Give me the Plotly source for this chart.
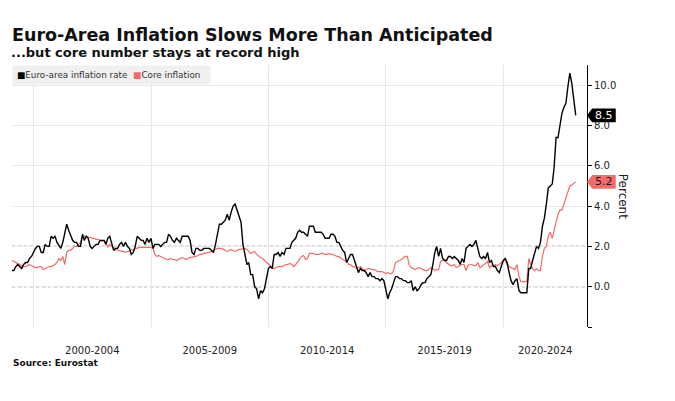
import pandas as pd
import plotly.graph_objects as go

# 月度数据, 1999年1月起
START = '1999-01-01'

HEADLINE = [
    0.8, 0.8, 1.0, 1.1, 1.0, 0.9, 1.1, 1.2, 1.2, 1.4, 1.5, 1.7,        # 1999
    1.9, 2.0, 2.0, 1.7, 1.7, 2.1, 2.0, 2.0, 2.5, 2.4, 2.5, 2.2,        # 2000
    2.0, 1.9, 2.2, 2.6, 3.1, 2.8, 2.5, 2.3, 2.2, 2.2, 2.0, 2.0,        # 2001
    2.6, 2.3, 2.5, 2.4, 2.0, 1.9, 2.0, 2.1, 2.1, 2.3, 2.3, 2.3,        # 2002
    2.1, 2.4, 2.5, 2.1, 1.8, 1.9, 1.9, 2.1, 2.2, 2.0, 2.2, 2.0,        # 2003
    1.9, 1.6, 1.7, 2.0, 2.5, 2.4, 2.3, 2.3, 2.1, 2.4, 2.2, 2.4,        # 2004
    1.9, 2.1, 2.1, 2.1, 2.0, 2.1, 2.2, 2.2, 2.6, 2.5, 2.3, 2.2,        # 2005
    2.4, 2.3, 2.2, 2.5, 2.5, 2.5, 2.5, 2.3, 1.7, 1.6, 1.9, 1.9,        # 2006
    1.8, 1.8, 1.9, 1.9, 1.9, 1.9, 1.8, 1.7, 2.1, 2.6, 3.1, 3.1,        # 2007
    3.2, 3.3, 3.6, 3.3, 3.7, 4.0, 4.1, 3.8, 3.6, 3.2, 2.1, 1.6,        # 2008
    1.1, 1.2, 0.6, 0.6, 0.0, -0.1, -0.6, -0.2, -0.3, -0.1, 0.5, 0.9,   # 2009
    1.0, 0.9, 1.6, 1.6, 1.7, 1.5, 1.7, 1.6, 1.9, 1.9, 1.9, 2.2,        # 2010
    2.3, 2.4, 2.7, 2.8, 2.7, 2.7, 2.6, 2.5, 3.0, 3.0, 3.0, 2.7,        # 2011
    2.7, 2.7, 2.7, 2.6, 2.4, 2.4, 2.4, 2.6, 2.6, 2.5, 2.2, 2.2,        # 2012
    2.0, 1.8, 1.7, 1.2, 1.4, 1.6, 1.6, 1.3, 1.1, 0.7, 0.9, 0.8,        # 2013
    0.8, 0.7, 0.5, 0.7, 0.5, 0.5, 0.4, 0.4, 0.3, 0.4, 0.3, -0.2,       # 2014
    -0.6, -0.3, -0.1, 0.2, 0.5, 0.5, 0.4, 0.4, 0.3, 0.3, 0.2, 0.2,     # 2015
    0.3, -0.2, 0.0, -0.2, -0.1, 0.1, 0.2, 0.2, 0.4, 0.5, 0.6, 1.1,     # 2016
    1.7, 2.0, 1.5, 1.9, 1.4, 1.3, 1.3, 1.5, 1.5, 1.4, 1.5, 1.4,        # 2017
    1.3, 1.1, 1.4, 1.2, 1.9, 2.0, 2.1, 2.0, 2.1, 2.3, 1.9, 1.5,        # 2018
    1.4, 1.5, 1.4, 1.7, 1.2, 1.3, 1.0, 1.0, 0.8, 0.7, 1.0, 1.3,        # 2019
    1.4, 1.2, 0.7, 0.3, 0.1, 0.3, 0.4, -0.2, -0.3, -0.3, -0.3, -0.3,   # 2020
    0.9, 0.9, 1.3, 1.6, 2.0, 1.9, 2.2, 3.0, 3.4, 4.1, 4.9, 5.0,        # 2021
    5.1, 5.9, 7.4, 7.4, 8.1, 8.6, 8.9, 9.1, 9.9, 10.6, 10.1, 9.2,      # 2022
    8.5,                                                               # 2023
]

CORE = [
    1.3, 1.25, 1.2, 1.15, 1.1, 1.05, 1.0, 1.0, 1.05, 1.1, 1.05, 1.0,      # 1999
    0.95, 0.95, 1.0, 1.0, 0.85, 0.9, 0.95, 1.0, 1.0, 1.05, 1.1, 1.2,      # 2000
    1.4, 1.3, 1.5, 1.1, 1.7, 1.8, 1.8, 1.9, 2.0, 2.0, 2.1, 2.2,           # 2001
    2.5, 2.5, 2.5, 2.45, 2.45, 2.4, 2.4, 2.35, 2.35, 2.3, 2.25, 2.3,      # 2002
    2.2, 1.95, 2.1, 2.0, 1.95, 1.9, 1.8, 1.8, 1.75, 1.75, 1.7, 1.75,      # 2003
    1.75, 1.85, 1.8, 1.9, 1.9, 1.95, 1.95, 1.95, 1.95, 1.95, 1.95, 1.95,  # 2004
    1.9, 1.6, 1.5, 1.55, 1.5, 1.45, 1.4, 1.35, 1.35, 1.4, 1.35, 1.35,     # 2005
    1.3, 1.35, 1.4, 1.45, 1.4, 1.35, 1.4, 1.45, 1.45, 1.5, 1.5, 1.55,     # 2006
    1.6, 1.6, 1.65, 1.65, 1.7, 1.7, 1.75, 1.8, 1.85, 1.9, 1.9, 1.9,       # 2007
    1.85, 1.8, 1.75, 1.8, 1.85, 1.8, 1.75, 1.8, 1.85, 1.85, 1.9, 1.9,     # 2008
    1.85, 1.75, 1.65, 1.7, 1.75, 1.6, 1.5, 1.45, 1.4, 1.3, 1.2, 1.1,      # 2009
    1.0, 0.95, 0.9, 0.95, 1.0, 1.0, 1.0, 1.05, 1.1, 1.1, 1.15, 1.1,       # 2010
    1.0, 1.1, 1.25, 1.4, 1.5, 1.55, 1.35, 1.4, 1.65, 1.65, 1.65, 1.6,     # 2011
    1.6, 1.6, 1.65, 1.65, 1.6, 1.6, 1.65, 1.6, 1.6, 1.55, 1.5, 1.5,       # 2012
    1.4, 1.35, 1.3, 1.25, 1.1, 1.1, 1.0, 1.0, 0.9, 0.95, 1.0, 0.9,        # 2013
    0.75, 0.85, 0.9, 0.9, 0.85, 0.85, 0.8, 0.75, 0.75, 0.75, 0.7, 0.65,   # 2014
    0.7, 0.65, 0.65, 0.8, 1.2, 1.25, 1.3, 1.35, 1.45, 1.5, 1.5, 1.05,     # 2015
    0.95, 0.9, 0.85, 0.9, 0.95, 0.9, 0.85, 0.8, 0.8, 0.85, 0.95, 0.9,     # 2016
    0.8, 0.85, 0.85, 1.25, 1.3, 1.35, 1.2, 1.1, 1.05, 1.05, 1.1, 0.95,    # 2017
    1.0, 1.05, 1.1, 1.1, 0.8, 1.05, 1.1, 1.1, 1.05, 1.05, 1.2, 0.95,      # 2018
    1.0, 1.1, 1.15, 1.25, 0.95, 1.05, 1.0, 1.1, 1.05, 1.1, 1.2, 1.3,      # 2019
    1.3, 1.1, 1.0, 0.95, 0.9, 0.85, 1.1, 0.5, 0.25, 0.25, 0.25, 0.25,     # 2020
    1.4, 1.1, 0.9, 0.8, 0.9, 0.8, 0.8, 1.5, 1.9, 2.0, 2.5, 2.7,           # 2021
    2.4, 2.8, 3.1, 3.6, 3.8, 3.8, 4.1, 4.4, 4.8, 5.0, 5.05, 5.15,         # 2022
    5.2,                                                                  # 2023
]

PERIOD_LABELS = ['2000-2004', '2005-2009', '2010-2014', '2015-2019', '2020-2024']
PERIOD_STARTS = ['2000-01-01', '2005-01-01', '2010-01-01', '2015-01-01', '2020-01-01']
X_END = '2023-07-25'

Y_TICKS = [-2, 0, 2, 4, 6, 8, 10]
REF_LINES = [0, 2]

TITLE = 'Euro-Area Inflation Slows More Than Anticipated'
SUBTITLE = '...but core number stays at record high'
SOURCE = 'Source: Eurostat'

COLOR_HEAD = '#000000'
COLOR_CORE = '#f26b6b'
COLOR_GRID = '#e8e8e8'
FONT = 'DejaVu Sans'

# 页面有 8px 边距, 图的尺寸相应缩小
W, H = 667, 393

# 每月数据画在月末
dates = pd.date_range(START, periods=len(HEADLINE), freq='MS') + pd.offsets.MonthEnd(0)

fig = go.Figure()
fig.add_trace(go.Scatter(x=dates, y=CORE, mode='lines', name='Core inflation',
                         line=dict(color=COLOR_CORE, width=1.2), showlegend=False))
fig.add_trace(go.Scatter(x=dates, y=HEADLINE, mode='lines', name='Euro-area inflation rate',
                         line=dict(color=COLOR_HEAD, width=1.4), showlegend=False))

# 期间标签居中
bounds = [pd.Timestamp(s) for s in PERIOD_STARTS] + [pd.Timestamp(X_END)]
label_pos = [bounds[i] + (bounds[i + 1] - bounds[i]) / 2 for i in range(len(PERIOD_LABELS))]

# 0 和 2 的虚线 (画在网格线之上, 曲线之下)
for v in REF_LINES:
    fig.add_shape(type='line', xref='paper', yref='y', x0=0, x1=1, y0=v, y1=v,
                  line=dict(color='#666666', width=1.2, dash='dot'), layer='between')

# 右侧数值标签
def add_tag(value, fill, text_color):
    h = 0.34
    fig.add_shape(type='path', xref='paper', yref='y', fillcolor=fill, line=dict(width=0),
                  path=f'M 1.0 {value} L 1.009 {value + h} L 1.05 {value + h} '
                       f'L 1.05 {value - h} L 1.009 {value - h} Z')
    fig.add_annotation(xref='paper', yref='y', x=1.03, y=value, text=f'{value:.1f}',
                       xanchor='center', yanchor='middle', showarrow=False,
                       font=dict(family=FONT, size=11, color=text_color))

add_tag(HEADLINE[-1], '#000000', '#ffffff')
add_tag(CORE[-1], COLOR_CORE, '#1a1a1a')

fig.add_annotation(xref='paper', yref='paper', x=1.063, y=0.5, text='Percent', textangle=90,
                   xanchor='center', yanchor='middle', showarrow=False,
                   font=dict(family=FONT, size=12, color='#222'))

# 图例 (用注释画方块)
legend_text = (f"<span style='color:{COLOR_HEAD}'>■</span>Euro-area inflation rate  "
               f"<span style='color:{COLOR_CORE}'>■</span>Core inflation  ")
fig.add_annotation(xref='paper', yref='paper', x=0, y=1, xanchor='left', yanchor='top',
                   text=legend_text, showarrow=False, bgcolor='#f0f0f0', borderpad=4,
                   font=dict(family=FONT, size=8.8, color='#333'))

fig.add_annotation(xref='paper', yref='paper', x=0, y=1.048, xanchor='left', yanchor='middle',
                   xshift=-3, text=f'<b>{SUBTITLE}</b>', showarrow=False,
                   font=dict(family=FONT, size=13, color='#111'))
fig.add_annotation(xref='paper', yref='paper', x=0, y=-0.137, xanchor='left', yanchor='middle',
                   xshift=-1, text=f'<b>{SOURCE}</b>', showarrow=False,
                   font=dict(family=FONT, size=9, color='#111'))

fig.update_xaxes(
    type='date',
    range=[dates[0], X_END],
    tickvals=label_pos, ticktext=PERIOD_LABELS,
    ticks='outside', ticklen=14, tickcolor='rgba(0,0,0,0)',
    showgrid=False, zeroline=False, showline=False,
    minor=dict(tickvals=PERIOD_STARTS, showgrid=True, gridcolor=COLOR_GRID, ticks=''),
    tickfont=dict(family=FONT, size=10, color='#222'),
)
fig.update_yaxes(
    side='right', range=[-2, 11],
    tickvals=Y_TICKS, ticktext=['' if v == -2 else f'{v:.1f}' for v in Y_TICKS],
    showgrid=True, gridcolor=COLOR_GRID, zeroline=False,
    showline=True, linecolor='#000', linewidth=1,
    ticks='outside', ticklen=4, tickcolor='#000',
    tickfont=dict(family=FONT, size=10, color='#222'),
)

fig.update_layout(
    width=W, height=H,
    margin=dict(l=4, r=88, t=57, b=74),
    paper_bgcolor='white', plot_bgcolor='white',
    title=dict(text=f'<b>{TITLE}</b>', x=4 / W, xanchor='left',
               y=1 - 27 / H, yanchor='middle', yref='container',
               font=dict(family=FONT, size=17.5, color='#111')),
    showlegend=False,
)

fig.write_html('out.html')
